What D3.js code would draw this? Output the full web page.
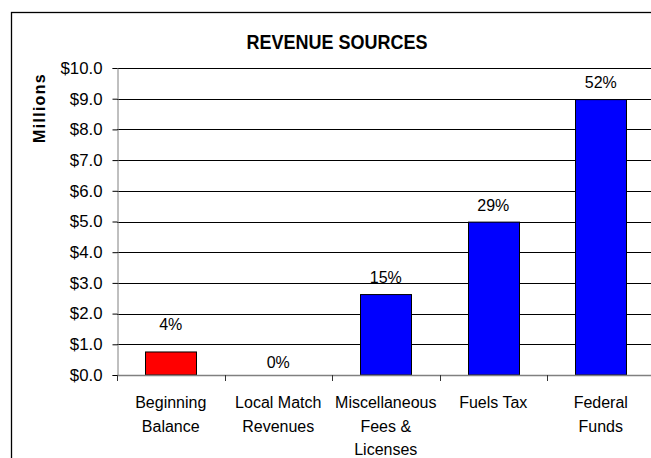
<!DOCTYPE html>
<html>
<head>
<meta charset="utf-8">
<script src="https://cdn.jsdelivr.net/npm/d3@7/dist/d3.min.js"></script>
<style>
  html, body { margin: 0; padding: 0; background: #fff; }
  svg { display: block; font-family: "Liberation Sans", Arial, sans-serif; }
</style>
</head>
<body>
<svg id="chart" width="651" height="458"></svg>
<script>
// Revenue sources, in millions of dollars
const categories = [
  ["Beginning", "Balance"],
  ["Local Match", "Revenues"],
  ["Miscellaneous", "Fees &", "Licenses"],
  ["Fuels Tax"],
  ["Federal", "Funds"]
];
const values = [0.75, 0.0, 2.62, 4.98, 8.97];
const shareLabels = ["4%", "0%", "15%", "29%", "52%"];
const barColors = ["#ff0000", "#0000ff", "#0000ff", "#0000ff", "#0000ff"];
const yTicks = [0, 1, 2, 3, 4, 5, 6, 7, 8, 9, 10];

// gap between bar top and its share label (baseline)
const labelGap = [22, 7, 12, 11, 12];

const svg = d3.select("#chart");

// outer chart frame (runs past the right and bottom edges)
svg.append("rect")
  .attr("x", 11.5).attr("y", 12.5)
  .attr("width", 700).attr("height", 500)
  .attr("fill", "none").attr("stroke", "#000").attr("stroke-width", 1.3);

const plotLeft = 117, plotRight = 654.5, plotTop = 68, plotBottom = 375;

const x = d3.scaleBand()
  .domain(d3.range(categories.length))
  .range([plotLeft, plotRight])
  .paddingInner(0.526)
  .paddingOuter(0.263);

const y = d3.scaleLinear().domain([0, 10]).range([plotBottom, plotTop]);

// horizontal gridlines
svg.append("g")
  .selectAll("line")
  .data(yTicks.filter(t => t > 0))
  .join("line")
  .attr("x1", plotLeft).attr("x2", plotRight + 10)
  .attr("y1", d => Math.round(y(d)) + 0.5).attr("y2", d => Math.round(y(d)) + 0.5)
  .attr("stroke", "#000").attr("stroke-width", 1);

// y axis
const yAxis = d3.axisLeft(y)
  .tickValues(yTicks)
  .tickFormat(d => "$" + d3.format(".1f")(d))
  .tickSize(5)
  .tickPadding(10);
const gy = svg.append("g")
  .attr("transform", `translate(${plotLeft + 0.5},0)`)
  .call(yAxis);
gy.select(".domain").attr("stroke", "#808080");
gy.selectAll(".tick line").attr("stroke", "#000");
gy.selectAll(".tick text")
  .attr("font-size", 16.8).attr("fill", "#000")
  .attr("font-family", "Liberation Sans, Arial, sans-serif");

// bars
svg.append("g")
  .selectAll("rect")
  .data(values)
  .join("rect")
  .attr("x", (d, i) => Math.round(x(i)) + 0.5)
  .attr("y", d => y(d))
  .attr("width", Math.round(x.bandwidth()))
  .attr("height", d => y(0) - y(d))
  .attr("fill", (d, i) => barColors[i])
  .attr("stroke", "#000").attr("stroke-width", 1);

// x axis line and category separators
const step = x.step();
const gx = svg.append("g");
gx.append("line")
  .attr("x1", plotLeft).attr("x2", plotRight + 10)
  .attr("y1", plotBottom + 0.5).attr("y2", plotBottom + 0.5)
  .attr("stroke", "#808080").attr("stroke-width", 1.3);
gx.selectAll("line.sep")
  .data(d3.range(categories.length + 1))
  .join("line")
  .attr("class", "sep")
  .attr("x1", i => Math.round(plotLeft + i * step) + 0.5)
  .attr("x2", i => Math.round(plotLeft + i * step) + 0.5)
  .attr("y1", plotBottom).attr("y2", plotBottom + 6)
  .attr("stroke", "#333");

// category labels
const catG = svg.append("g")
  .attr("font-size", 16).attr("text-anchor", "middle").attr("fill", "#000");
categories.forEach((lines, i) => {
  const t = catG.append("text")
    .attr("x", x(i) + x.bandwidth() / 2)
    .attr("y", 408);
  lines.forEach((ln, j) => {
    t.append("tspan")
      .attr("x", x(i) + x.bandwidth() / 2)
      .attr("dy", j === 0 ? 0 : 23.5)
      .text(ln);
  });
});

// share labels above bars
svg.append("g")
  .attr("font-size", 16).attr("text-anchor", "middle").attr("fill", "#000")
  .selectAll("text")
  .data(values)
  .join("text")
  .attr("x", (d, i) => x(i) + x.bandwidth() / 2)
  .attr("y", (d, i) => y(d) - labelGap[i])
  .text((d, i) => shareLabels[i]);

// title
svg.append("text")
  .attr("x", 337).attr("y", 49)
  .attr("text-anchor", "middle")
  .attr("font-size", 20).attr("font-weight", "bold")
  .attr("textLength", 181).attr("lengthAdjust", "spacingAndGlyphs")
  .attr("fill", "#000")
  .text("REVENUE SOURCES");

// y axis title
svg.append("text")
  .attr("transform", "translate(45,108) rotate(-90)")
  .attr("text-anchor", "middle")
  .attr("font-size", 16).attr("font-weight", "bold")
  .attr("letter-spacing", 1.3)
  .attr("fill", "#000")
  .text("Millions");
</script>
</body>
</html>
